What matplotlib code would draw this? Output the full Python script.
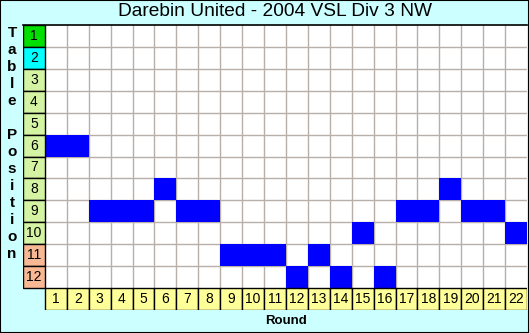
import matplotlib.pyplot as plt
from matplotlib.patches import Rectangle

plt.rcParams['font.family'] = ['Liberation Sans', 'DejaVu Sans']

title = "Darebin United - 2004 VSL Div 3 NW"
rounds = list(range(1, 23))
positions = [6, 6, 9, 9, 9, 8, 9, 9, 11, 11, 11, 12, 11, 12, 10, 12, 9, 9, 8, 9, 9, 10]
n_teams = 12
pos_colors = ['#00e000', '#00ffff'] + ['#d4f4a4'] * 8 + ['#f8b894'] * 2
round_color = '#ffff99'
bg = '#ccffff'

W, H = 529, 333
fig = plt.figure(figsize=(W / 100, H / 100), dpi=100, facecolor=bg)
# grid area: label column + 22 rounds, 12 rows + round label row
ax = fig.add_axes([23 / W, (H - 310) / H, 504 / W, 285 / H])
ax.set_xlim(-0.5, len(rounds) + 0.5)
ax.set_ylim(n_teams + 1.5, 0.5)
ax.axis('off')

# white playing field with grey grid
ax.add_patch(Rectangle((0.5, 0.5), len(rounds), n_teams, facecolor='white', edgecolor='none'))
for r, p in zip(rounds, positions):
    ax.add_patch(Rectangle((r - 0.5, p - 0.5), 1, 1, facecolor='#0000ff', edgecolor='none', zorder=3))
for x in range(1, len(rounds)):
    ax.plot([x + 0.5, x + 0.5], [0.5, n_teams + 0.5], color='#b8b0a8', lw=1, zorder=2)
for y in range(1, n_teams):
    ax.plot([0.5, len(rounds) + 0.5], [y + 0.5, y + 0.5], color='#b8b0a8', lw=1, zorder=2)

# position labels
for i in range(n_teams):
    ax.add_patch(Rectangle((-0.5, i + 0.5), 1, 1, facecolor=pos_colors[i], edgecolor='black', lw=1, zorder=4))
    ax.text(0, i + 1, str(i + 1), ha='center', va='center', fontsize=10, zorder=5)

# round labels
for r in rounds:
    ax.add_patch(Rectangle((r - 0.5, n_teams + 0.5), 1, 1, facecolor=round_color, edgecolor='black', lw=1, zorder=4))
    ax.text(r, n_teams + 1, str(r), ha='center', va='center', fontsize=10, zorder=5)

# top border of grid
ax.plot([-0.5, len(rounds) + 0.5], [0.5, 0.5], color='black', lw=1.2, zorder=6, clip_on=False)

fig.text(275 / W, 1 - 12 / H, title, ha='center', va='center', fontsize=13.8)
fig.text(286 / W, 1 - 321 / H, "Round", ha='center', va='center', fontsize=9.5, fontweight='bold')

ylabel = "Table Position"
for k, ch in enumerate(ylabel):
    if ch != ' ':
        fig.text(12 / W, 1 - (33 + 17 * k) / H, ch, ha='center', va='center', fontsize=11, fontweight='bold')

fig.add_artist(Rectangle((0, 0), 1, 1, transform=fig.transFigure, facecolor='none', edgecolor='black', lw=1.5))

fig.savefig('out.png', dpi=100, facecolor=bg)
